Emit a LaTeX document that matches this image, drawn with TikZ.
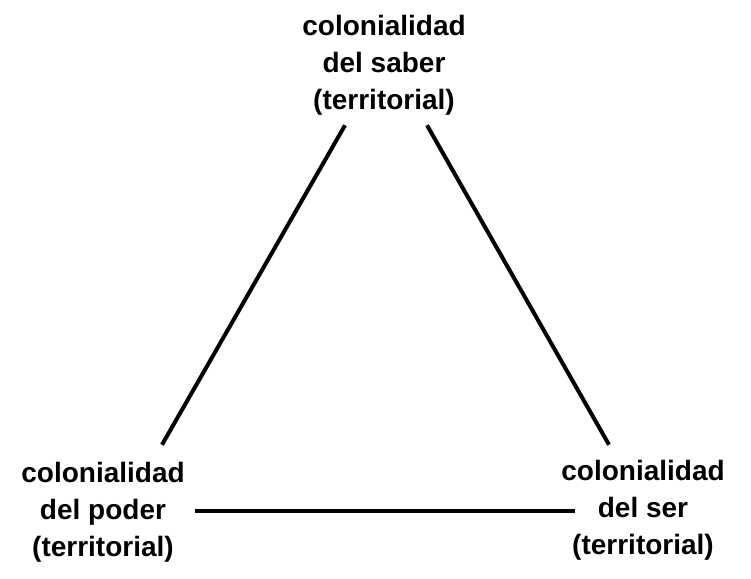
\documentclass[tikz,border=0pt]{standalone}
\usepackage{fontspec}
\setmainfont{Liberation Sans}
\tikzset{
  vertex/.style={align=center, inner sep=0pt, font=\bfseries\fontsize{28}{37}\selectfont},
  edge/.style={line width=4pt}
}
\begin{document}
\begin{tikzpicture}[x=1pt,y=-1pt]
\useasboundingbox (0,0) rectangle (751,578);
\node[vertex] (saber) at (384, 65) {colonialidad\\del saber\\(territorial)};
\node[vertex] (poder) at (103, 512) {colonialidad\\del poder\\(territorial)};
\node[vertex] (ser) at (643, 510) {colonialidad\\del ser\\(territorial)};
\coordinate (sl) at ([shift={(-39,10)}]saber.south);
\coordinate (sr) at ([shift={(43,10)}]saber.south);
\coordinate (pl) at ([shift={(59,-17)}]poder.north);
\coordinate (rl) at ([shift={(-34,-15)}]ser.north);
\coordinate (pb) at ([xshift=10pt]poder.east |- 0,511);
\coordinate (rb) at ([xshift=14pt]ser.west |- 0,511);
\draw[edge] (sl) -- (pl);
\draw[edge] (sr) -- (rl);
\draw[edge] (pb) -- (rb);
\end{tikzpicture}
\end{document}
